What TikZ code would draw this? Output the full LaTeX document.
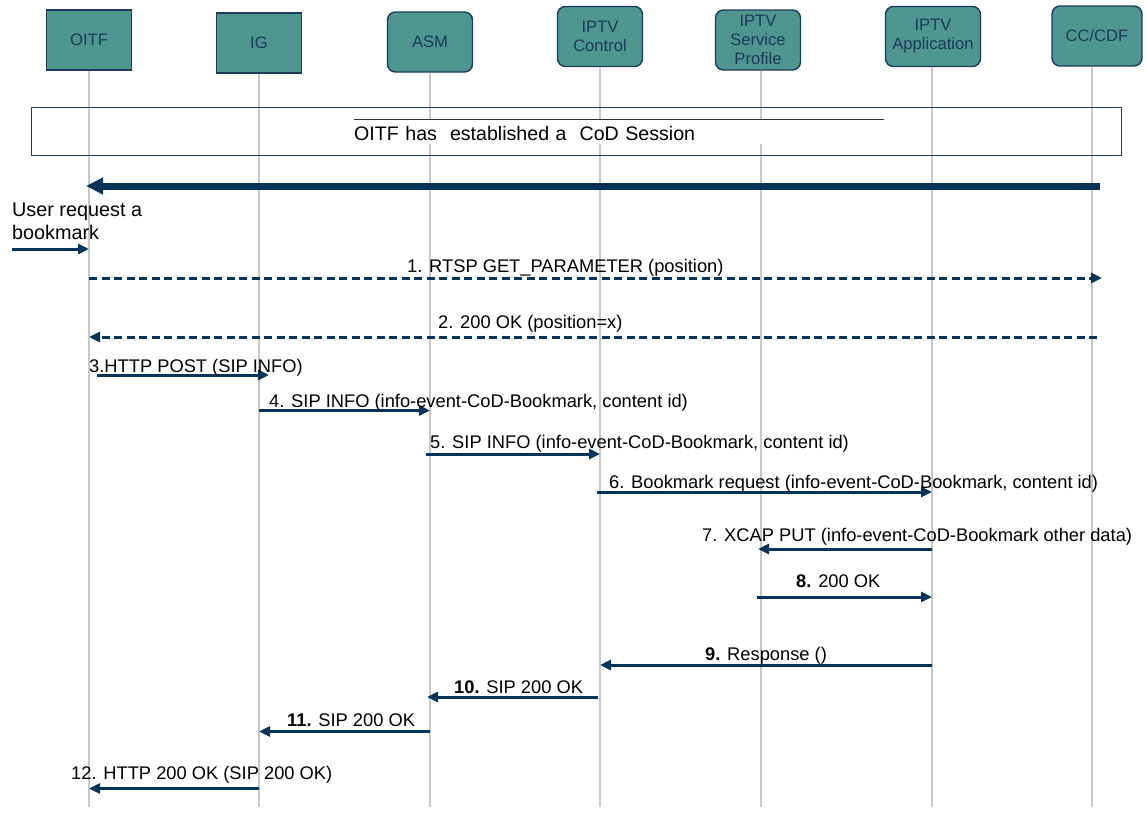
\documentclass[tikz,border=0pt]{standalone}
\usepackage{fontspec}
\setmainfont{Liberation Sans}
\usetikzlibrary{arrows.meta, positioning, calc}
\definecolor{boxteal}{RGB}{79, 150, 144}
\definecolor{navy}{RGB}{4, 52, 90}
\definecolor{boxline}{RGB}{28, 58, 92}
\definecolor{lifegray}{RGB}{200, 200, 200}

\begin{document}
\begin{tikzpicture}[
        x=1pt, y=-1pt,
        actor/.style={rectangle, draw=boxline, line width=1.4pt, fill=boxteal, minimum width=85pt, minimum height=60pt, align=center, inner sep=1pt, rounded corners=8pt, text=boxline, font=\fontsize{16.6}{19}\selectfont},
        life/.style={draw=lifegray, line width=1.3pt},
        msg/.style={-{Triangle[length=11pt, width=10pt]}, line width=3pt, draw=navy},
        dmsg/.style={msg, dash pattern=on 8pt off 4.5pt},
        bigarrow/.style={-{Triangle[length=17pt, width=16pt]}, line width=7pt, draw=navy},
        lbl/.style={anchor=base west, inner sep=0pt, font=\fontsize{18.3}{22}\selectfont},
        note/.style={anchor=base west, fill=white, inner sep=0pt, text width=530pt, align=left, text height=21pt, text depth=4pt, font=\fontsize{19.6}{24}\selectfont}
    ]
        \useasboundingbox (0,0) rectangle (1146,815);

        % Nodes
        \node[actor, sharp corners] (oitf) at (89,40) {OITF};
        \node[actor, sharp corners] (ig) at (259,43) {IG};
        \node[actor] (asm) at (430,42) {ASM};
        \node[actor] (ctrl) at (600,36.5) {IPTV\\Control};
        \node[actor] (prof) at (758,40) {IPTV\\Service\\Profile};
        \node[actor, minimum width=95pt] (app) at (933,36.5) {IPTV\\Application};
        \node[actor, minimum width=90pt] (cdf) at (1097,36) {CC/CDF};

        % Rows
        \coordinate (bottom) at (0,807);
        \foreach \n/\y in {0/186, u/249, 1/278, 2/337, 3/375, 4/410.5, 5/454, 6/492, 7/549, 8/597, 9/665, 10/697, 11/731.5, 12/788.5}
            \coordinate (r\n) at (0,\y);

        % Lifelines
        \coordinate (oitfL) at (89,0);
        \coordinate (igL) at (259,0);
        \coordinate (asmL) at (430,0);
        \coordinate (ctrlL) at (600,0);
        \coordinate (profL) at (761,0);
        \coordinate (appL) at (932,0);
        \coordinate (cdfL) at (1092,0);
        \foreach \a in {oitf, ig, asm, ctrl, prof, app, cdf}
            \draw[life] (\a L |- \a.south) -- (\a L |- bottom);

        % Session
        \node[draw=boxline, line width=1.3pt, anchor=north west, minimum width=1090pt, minimum height=48pt, inner sep=0pt] (session) at (31,107) {};
        \node[note] (sess) at (354,140) {OITF has~ established a~ CoD Session};
        \draw[line width=0.6pt, black!80] (sess.north west) -- (sess.north east);

        % Connections
        \draw[bigarrow] ($(cdfL |- r0)+(8,0)$) -- ($(oitfL |- r0)+(-3,0)$);

        \coordinate (user) at (12,249);
        \node[anchor=base west, inner sep=0pt, align=left, font=\fontsize{19.8}{23}\selectfont] (ureq) at (12,239) {User request a\\bookmark};
        \draw[msg] (user) -- (oitfL |- ru);

        \draw[dmsg] (oitfL |- r1) -- ($(cdfL |- r1)+(10,0)$);
        \node[lbl] (l1) at (407,272.5) {1. RTSP GET\_PARAMETER (position)};

        \draw[dmsg] ($(cdfL |- r2)+(5,0)$) -- (oitfL |- r2);
        \node[lbl] (l2) at (438,328) {2. 200 OK (position=x)};

        \draw[msg] ($(oitfL |- r3)+(8,0)$) -- ($(igL |- r3)+(10,0)$);
        \node[lbl] (l3) at (89,372.5) {3.HTTP POST (SIP INFO)};

        \draw[msg] (igL |- r4) -- (asmL |- r4);
        \node[lbl] (l4) at (269,407) {4. SIP INFO (info-event-CoD-Bookmark, content id)};

        \draw[msg] ($(asmL |- r5)+(-4,0)$) -- (ctrlL |- r5);
        \node[lbl] (l5) at (430,448) {5. SIP INFO (info-event-CoD-Bookmark, content id)};

        \draw[msg] ($(ctrlL |- r6)+(-3,0)$) -- (appL |- r6);
        \node[lbl] (l6) at (609,488) {6. Bookmark request (info-event-CoD-Bookmark, content id)};

        \draw[msg] (appL |- r7) -- ($(profL |- r7)+(-3,0)$);
        \node[lbl] (l7) at (702,541.5) {7. XCAP PUT (info-event-CoD-Bookmark other data)};

        \draw[msg] ($(profL |- r8)+(-4,0)$) -- (appL |- r8);
        \node[lbl] (l8) at (796,587) {\textbf{8.} 200 OK};

        \draw[msg] (appL |- r9) -- (ctrlL |- r9);
        \node[lbl] (l9) at (705,660.5) {\textbf{9.} Response ()};

        \draw[msg] ($(ctrlL |- r10)+(-2,0)$) -- ($(asmL |- r10)+(-3,0)$);
        \node[lbl] (l10) at (454,693) {\textbf{10.} SIP 200 OK};

        \draw[msg] (asmL |- r11) -- (igL |- r11);
        \node[lbl] (l11) at (287,726.5) {\textbf{11.} SIP 200 OK};

        \draw[msg] (igL |- r12) -- (oitfL |- r12);
        \node[lbl] (l12) at (71,779) {12. HTTP 200 OK (SIP 200 OK)};
    \end{tikzpicture}
\end{document}
